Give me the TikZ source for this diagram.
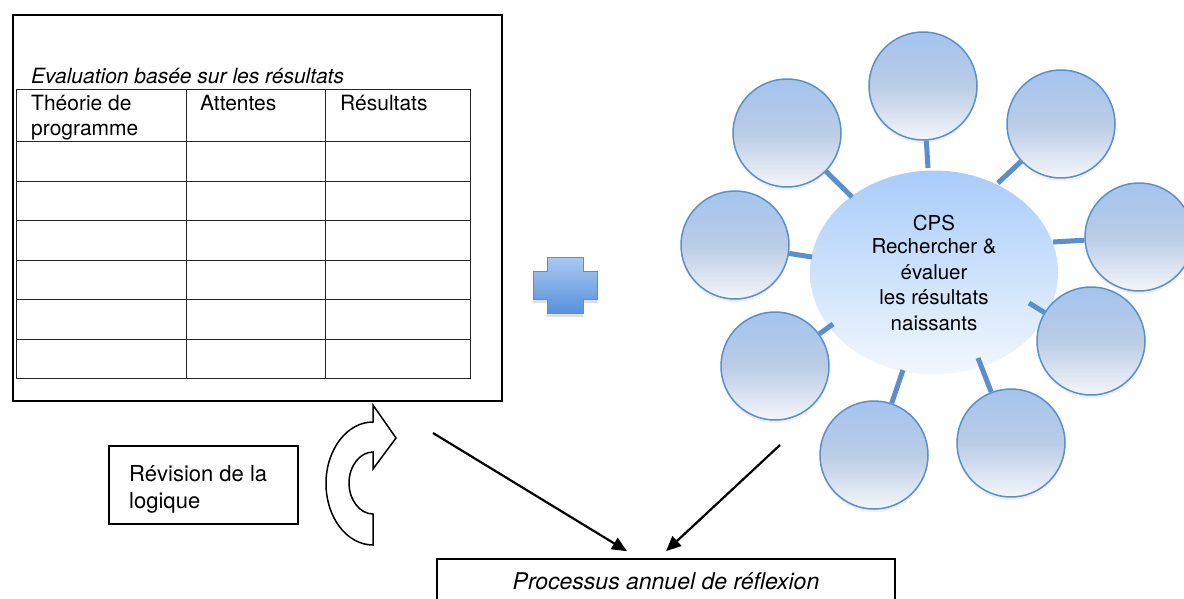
\documentclass[tikz,border=0pt]{standalone}
\usepackage{fontspec}
\setmainfont{TeX Gyre Heros}
\usetikzlibrary{shapes.geometric,arrows.meta,calc,shadows}
\definecolor{cborder}{RGB}{91,143,204}
\definecolor{ctop}{RGB}{164,196,238}
\definecolor{cmid}{RGB}{186,204,230}
\definecolor{cbot}{RGB}{243,246,251}
\definecolor{htop}{RGB}{168,204,250}
\definecolor{hbot}{RGB}{242,247,254}
\definecolor{ptop}{RGB}{170,201,243}
\definecolor{pbot}{RGB}{86,145,220}
\definecolor{pborder}{RGB}{92,142,206}
\begin{document}
\begin{tikzpicture}[x=1pt,y=-1pt,
  sat/.style={circle, draw=cborder, line width=1.5pt, minimum size=108pt, inner sep=0pt,
    top color=ctop, bottom color=cbot, middle color=cmid,
    drop shadow={opacity=0.12, shadow xshift=0pt, shadow yshift=-3pt}},
  hub/.style={ellipse, minimum width=248pt, minimum height=204pt, inner sep=0pt,
    top color=htop, bottom color=hbot, align=center,
    font=\fontsize{20.5}{25.5}\selectfont},
  stub/.style={draw=cborder, line width=5pt},
  box/.style={draw=black, line width=1.6pt, inner sep=0pt},
  tbl/.style={draw=black!85, line width=1pt},
  lbl/.style={anchor=base west, inner sep=0pt, align=left, font=\fontsize{21}{25}\selectfont},
  arr/.style={draw=black, line width=2.2pt, -{Triangle[length=15pt,width=13pt]}},
  plusshape/.style={draw=pborder, line width=1pt, top color=ptop, bottom color=pbot,
    drop shadow={opacity=0.25, shadow xshift=0pt, shadow yshift=-4pt}}
]
\fill[white] (0,0) rectangle (1184,598);
\useasboundingbox (0,0) rectangle (1184,598);

% left table box
\node[box, minimum width=489pt, minimum height=386pt, anchor=north west] (evalbox) at (12,14) {};
\node[lbl] (title) at (31,83) {\itshape Evaluation basée sur les résultats};
\draw[tbl] (16,89) rectangle (470,378);
\foreach \x in {186,325} \draw[tbl] (\x,89) -- (\x,378);
\foreach \y in {141,181,220,260,299,339} \draw[tbl] (16,\y) -- (470,\y);
\node[lbl] (h1) at (31,135) {Théorie de\\programme};
\node[lbl] (h2) at (200,110) {Attentes};
\node[lbl] (h3) at (340,110) {Résultats};

% plus sign
\draw[plusshape] (547,257) -- (583,257) -- (583,271) -- (597,271) -- (597,299) -- (583,299)
  -- (583,313) -- (547,313) -- (547,299) -- (533,299) -- (533,271) -- (547,271) -- cycle;

% curved arrow
\draw[line width=1.5pt, fill=white, line join=miter]
  (373,545) .. controls (347,545) and (326,517.5) .. (326,483.5)
  .. controls (326,449.5) and (347,422) .. (373,422)
  -- (373,405) -- (396,438) -- (373,469) -- (373,452)
  .. controls (360,452) and (349,466) .. (349,483)
  .. controls (349,500) and (360,514) .. (373,514) -- cycle;

% revision box
\node[box, minimum width=189pt, minimum height=78pt, anchor=north west] (rev) at (108,445) {};
\node[anchor=base west, inner sep=0pt, align=left, font=\fontsize{22}{27}\selectfont] (revtext)
  at ($(rev.north west)+(21,63)$) {Révision de la\\logique};

% bottom box
\node[box, minimum width=458pt, minimum height=45pt, font=\fontsize{23}{27}\selectfont] (proc)
  at (666,581.5) {\itshape Processus annuel de réflexion};

% arrows
\coordinate (a1s) at (433,433);
\coordinate (a2s) at (780,445);
\draw[arr] (a1s) -- ($(proc.north)+(-39,-7)$);
\draw[arr] (a2s) -- ($(proc.north)+(0,-7)$);

% hub and satellites
\node[hub] (hub) at (934,272.5) {\raisebox{-2pt}{CPS}\\Rechercher \&\\évaluer\\les résultats\\naissants};
\node[sat] (s1) at (923,86) {};
\node[sat] (s2) at (1061,124) {};
\node[sat] (s3) at (1139,237) {};
\node[sat] (s4) at (1091,341) {};
\node[sat] (s5) at (1011,443) {};
\node[sat] (s6) at (874,455) {};
\node[sat] (s7) at (775,366) {};
\node[sat] (s8) at (735,245) {};
\node[sat] (s9) at (787,133) {};
\coordinate (e1) at (928,168);
\coordinate (e2) at (998,183);
\coordinate (e3) at (1053,242);
\coordinate (e4) at (1029,303);
\coordinate (e5) at (978,358);
\coordinate (e6) at (903,370);
\coordinate (e7) at (833,324);
\coordinate (e8) at (812,257);
\coordinate (e9) at (852,197);
\foreach \i in {1,...,9} \draw[stub] (s\i) -- (e\i);
\end{tikzpicture}
\end{document}
